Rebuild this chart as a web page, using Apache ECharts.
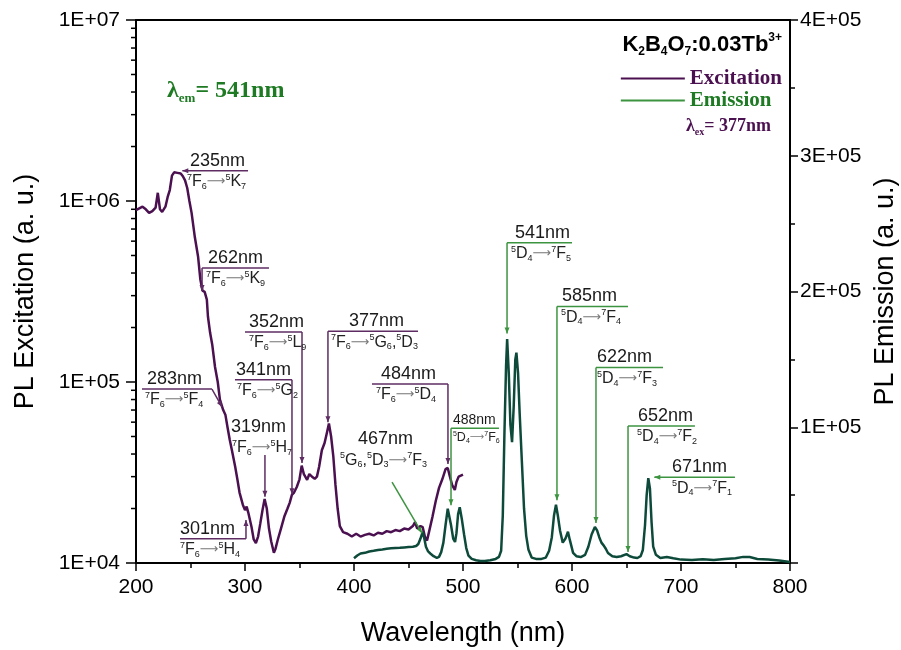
<!DOCTYPE html>
<html>
<head>
<meta charset="utf-8">
<script src="https://cdn.jsdelivr.net/npm/echarts@6/dist/echarts.min.js"></script>
<style>
  html, body { margin: 0; padding: 0; background: #fff; }
  #chart { width: 901px; height: 650px; }
</style>
</head>
<body>
<div id="chart"></div>
<script>
// excitation spectrum (lambda_em = 541 nm), left log axis
const excitationNm = [200, 203, 206, 209, 212, 215, 218, 220, 222, 224, 227, 229, 231, 233, 235, 238, 241, 243, 245, 247, 249, 251, 254, 257, 259, 261, 263, 265, 266, 268, 270, 272.5, 275, 277, 280, 282, 284, 286, 288, 291, 293, 295, 298, 300, 301.5, 303, 306, 308, 310, 312, 314, 316, 318, 320, 322, 324, 326.5, 328, 330, 333, 336, 339, 341, 343, 345, 347.5, 350, 352, 354, 357, 359, 361.5, 364, 366, 368, 370.5, 373, 375, 377, 379, 381, 383, 385, 387, 390, 394, 398, 402, 406, 410, 414, 418, 422, 426, 430, 434, 438, 442, 446, 450, 454, 456, 458, 461, 463, 465, 467, 469, 472, 475, 478, 481, 484, 486, 488, 490, 492.5, 494, 496, 499, 500];
const excitationVal = [8.9e5, 9.1e5, 9.3e5, 9.0e5, 8.6e5, 8.8e5, 9.2e5, 1.11e6, 9.0e5, 8.7e5, 9.3e5, 1.05e6, 1.15e6, 1.38e6, 1.44e6, 1.43e6, 1.42e6, 1.37e6, 1.3e6, 1.18e6, 1.0e6, 8.6e5, 6.3e5, 4.9e5, 3.7e5, 3.2e5, 3.15e5, 2.85e5, 2.3e5, 1.87e5, 1.6e5, 1.21e5, 1.0e5, 8.0e4, 7.0e4, 6.6e4, 5.6e4, 4.8e4, 4.2e4, 3.4e4, 2.9e4, 2.45e4, 2.1e4, 1.96e4, 2.05e4, 1.9e4, 1.58e4, 1.35e4, 1.29e4, 1.4e4, 1.65e4, 1.95e4, 2.26e4, 2.0e4, 1.55e4, 1.32e4, 1.14e4, 1.2e4, 1.34e4, 1.55e4, 1.8e4, 2.0e4, 2.15e4, 2.38e4, 2.45e4, 2.63e4, 2.9e4, 3.45e4, 3.1e4, 2.88e4, 3.1e4, 3.0e4, 2.92e4, 3.0e4, 3.4e4, 4.2e4, 4.6e4, 5.2e4, 5.9e4, 5.0e4, 3.9e4, 2.7e4, 2.0e4, 1.6e4, 1.48e4, 1.45e4, 1.4e4, 1.45e4, 1.4e4, 1.43e4, 1.45e4, 1.42e4, 1.47e4, 1.45e4, 1.5e4, 1.48e4, 1.52e4, 1.5e4, 1.55e4, 1.53e4, 1.6e4, 1.68e4, 1.55e4, 1.6e4, 1.58e4, 1.4e4, 1.33e4, 1.5e4, 1.8e4, 2.2e4, 2.6e4, 2.9e4, 3.3e4, 3.35e4, 3.0e4, 2.7e4, 2.53e4, 2.8e4, 3.0e4, 3.06e4, 3.08e4];

// emission spectrum (lambda_ex = 377 nm), right linear axis
const emissionNm = [400, 403, 406, 410, 414, 418, 422, 426, 430, 434, 438, 442, 446, 450, 454, 457, 459, 461, 463, 464.5, 466, 468, 470, 473, 476, 478, 480, 482, 484, 486, 487.5, 489, 491, 492.7, 494, 495.5, 497, 499, 501, 503, 505, 508, 512, 516, 520, 525, 530, 533, 535, 536.5, 538, 539.5, 540.5, 542, 543.5, 545, 546.5, 548, 549, 550.5, 552, 554, 556, 558, 560, 563, 567, 572, 576, 579, 581.5, 583.5, 585.3, 587, 589, 591.5, 594, 596.3, 598, 601, 604, 608, 612, 615, 618, 621, 623, 625, 627, 629, 631, 633, 637, 641, 645, 650, 653, 657, 660, 663, 665, 667, 668.5, 670, 671.5, 673, 674.5, 677, 681, 687, 693, 700, 710, 720, 730, 740, 750, 757, 763, 770, 780, 790, 800];
const emissionVal = [3.5e3, 5.5e3, 7e3, 7.5e3, 8.5e3, 9e3, 9.6e3, 1.0e4, 1.05e4, 1.08e4, 1.1e4, 1.12e4, 1.15e4, 1.18e4, 1.2e4, 1.25e4, 1.4e4, 1.8e4, 2.3e4, 1.8e4, 1.2e4, 8.5e3, 7e3, 5e3, 3.8e3, 4.5e3, 8e3, 1.5e4, 2.8e4, 4.0e4, 3.9e4, 2.8e4, 1.8e4, 1.55e4, 2.2e4, 3.6e4, 4.1e4, 3.2e4, 2.1e4, 1.1e4, 5.5e3, 3e3, 2e3, 1.5e3, 1.5e3, 2e3, 3e3, 4.5e3, 9e3, 3.5e4, 9.5e4, 1.45e5, 1.65e5, 1.4e5, 1.02e5, 8.9e4, 1.15e5, 1.5e5, 1.55e5, 1.4e5, 1.1e5, 7.5e4, 4e4, 2e4, 1.0e4, 4e3, 3e3, 3e3, 4e3, 9e3, 1.9e4, 3.5e4, 4.3e4, 3.5e4, 2.4e4, 1.5e4, 1.8e4, 2.3e4, 1.7e4, 7.5e3, 5e3, 4.4e3, 6e3, 1.2e4, 2.1e4, 2.65e4, 2.4e4, 1.9e4, 1.5e4, 1.3e4, 1.05e4, 7.4e3, 5e3, 4.4e3, 5e3, 6.5e3, 5e3, 4e3, 3.7e3, 5e3, 9.6e3, 2.8e4, 5e4, 6.25e4, 5.5e4, 3e4, 1.2e4, 6e3, 3.7e3, 4.4e3, 3.5e3, 2.5e3, 2.2e3, 2.8e3, 2.2e3, 3e3, 3.5e3, 4.5e3, 4.4e3, 3e3, 2.5e3, 1.8e3, 0.8e3];

const logMinorTicks = [2e4, 3e4, 4e4, 5e4, 6e4, 7e4, 8e4, 9e4, 2e5, 3e5, 4e5, 5e5, 6e5, 7e5, 8e5, 9e5, 2e6, 3e6, 4e6, 5e6, 6e6, 7e6, 8e6, 9e6];

// peak annotations
const excitationLabels = ['235nm', '262nm', '283nm', '301nm', '319nm', '341nm', '352nm', '377nm', '484nm'];
const excitationTrans = ['^7F_6>^5K_7', '^7F_6>^5K_9', '^7F_6>^5F_4', '^7F_6>^5H_4', '^7F_6>^5H_7', '^7F_6>^5G_2', '^7F_6>^5L_9', '^7F_6>^5G_6,^5D_3', '^7F_6>^5D_4'];
const emissionLabels = ['467nm', '488nm', '541nm', '585nm', '622nm', '652nm', '671nm'];
const emissionTrans = ['^5G_6,^5D_3>^7F_3', '^5D_4>^7F_6', '^5D_4>^7F_5', '^5D_4>^7F_4', '^5D_4>^7F_3', '^5D_4>^7F_2', '^5D_4>^7F_1'];

// where each annotation sits (axis units)
const excitationLayout = [
  { bar: true, x0: 245, x1: 302.8, y: 1.47e6, labelX: 249.5, transX: 246.8, from: [246, 1.47e6], to: [242.5, 1.47e6] },
  { bar: true, x0: 260.6, x1: 322, y: 4.27e5, labelX: 266.1, transX: 264.2, from: [260.6, 4.27e5], to: [260.6, 3.18e5] },
  { bar: true, x0: 205.5, x1: 269.7, y: 9.14e4, labelX: 210.1, transX: 208.3, from: [269.7, 9.14e4], to: [278.9, 7.28e4] },
  { bar: true, x0: 240.4, x1: 300.9, y: 1.36e4, labelX: 240.4, transX: 240.4, from: [300.9, 1.36e4], to: [300.9, 1.73e4] },
  { bar: false, x0: 287, x1: 340, y: 4.97e4, labelX: 287.2, transX: 288.1, from: [318.3, 3.95e4], to: [318.3, 2.32e4] },
  { bar: true, x0: 290.8, x1: 343.1, y: 1.03e5, labelX: 291.7, transX: 292.7, from: [343.1, 1.03e5], to: [343.1, 2.4e4] },
  { bar: true, x0: 300, x1: 352.3, y: 1.89e5, labelX: 303.7, transX: 303.7, from: [352.3, 1.89e5], to: [352.3, 3.57e4] },
  { bar: true, x0: 376.1, x1: 458.7, y: 1.91e5, labelX: 395.4, transX: 378.9, from: [376.1, 1.91e5], to: [376.1, 6.0e4] },
  { bar: true, x0: 416.5, x1: 486.2, y: 9.75e4, labelX: 424.8, transX: 420.2, from: [486.2, 9.75e4], to: [486.2, 3.52e4] }
];
const emissionLayout = [
  { bar: false, x0: 387, x1: 440, y: 8.38e4, labelX: 403.7, transX: 387.2, from: [434.9, 5.96e4], to: [462.4, 2.2e4] },
  { bar: true, small: true, x0: 489, x1: 533, y: 9.93e4, labelX: 490.8, transX: 490.8, from: [489, 9.93e4], to: [489, 4.26e4] },
  { bar: true, x0: 540.4, x1: 600, y: 2.36e5, labelX: 547.7, transX: 544, from: [540.4, 2.36e5], to: [540.4, 1.69e5] },
  { bar: true, x0: 586.2, x1: 651.4, y: 1.89e5, labelX: 590.8, transX: 589.9, from: [586.2, 1.89e5], to: [586.2, 4.63e4] },
  { bar: true, x0: 622, x1: 683.5, y: 1.44e5, labelX: 622.9, transX: 622.9, from: [622, 1.44e5], to: [622, 2.94e4] },
  { bar: true, x0: 651.4, x1: 712.8, y: 1.01e5, labelX: 660.6, transX: 659.7, from: [651.4, 1.01e5], to: [651.4, 8.1e3] },
  { bar: true, x0: 676.1, x1: 749.5, y: 6.32e4, labelX: 691.7, transX: 691.7, from: [679, 6.32e4], to: [675.5, 6.32e4] }
];

const PURPLE = '#4b1050';
const TEAL = '#0d4a3a';
const NOTE_PURPLE = '#5e2c62';
const NOTE_GREEN = '#3d9440';
const SANS = 'Liberation Sans, Arial, sans-serif';
const SERIF = 'Liberation Serif, Times New Roman, serif';

// "^7F_6>^5K_7" -> rich text tokens
function richText(s) {
  let out = '', buf = '';
  const flush = () => { if (buf) { out += '{n|' + buf + '}'; buf = ''; } };
  for (let i = 0; i < s.length; i++) {
    const c = s[i];
    if (c === '^') { flush(); out += '{sup|' + s[++i] + '}'; }
    else if (c === '_') { flush(); out += '{sub|' + s[++i] + '}'; }
    else if (c === '>') { flush(); out += '{arr|\u27F6}'; }
    else buf += c;
  }
  flush();
  return out;
}

function transRich(k) {
  return {
    n: { fontSize: 16 * k, fontFamily: SANS, fill: '#222', lineHeight: 18 * k, verticalAlign: 'middle' },
    sup: { fontSize: 9 * k, fontFamily: SANS, fill: '#222', lineHeight: 9 * k, verticalAlign: 'top' },
    sub: { fontSize: 9 * k, fontFamily: SANS, fill: '#222', lineHeight: 9 * k, verticalAlign: 'bottom' },
    arr: { fontSize: 13 * k, fontFamily: 'DejaVu Sans', fill: '#777', lineHeight: 18 * k, verticalAlign: 'middle' }
  };
}

function noteSeries(yIndex, labels, trans, layout, lineColor) {
  return {
    type: 'custom',
    xAxisIndex: 0,
    yAxisIndex: yIndex,
    silent: true,
    clip: false,
    z: 5,
    data: layout.map((l, i) => [l.to[0], l.to[1], i]),
    encode: { x: 0, y: 1 },
    renderItem: function (params, api) {
      const i = api.value(2);
      const l = layout[i];
      const k = l.small ? 0.78 : 1;
      const a = api.coord(l.from), b = api.coord(l.to);
      const p0 = api.coord([l.x0, l.y]), p1 = api.coord([l.x1, l.y]);
      const kids = [];
      if (l.bar) {
        kids.push({ type: 'line', shape: { x1: p0[0], y1: p0[1], x2: p1[0], y2: p1[1] }, style: { stroke: lineColor, lineWidth: 1.5 } });
      }
      kids.push({ type: 'line', shape: { x1: a[0], y1: a[1], x2: b[0], y2: b[1] }, style: { stroke: lineColor, lineWidth: 1.5 } });
      const dx = b[0] - a[0], dy = b[1] - a[1];
      const len = Math.hypot(dx, dy) || 1, ux = dx / len, uy = dy / len;
      const h = 6, w = 2.5;
      kids.push({
        type: 'polygon',
        shape: { points: [[b[0], b[1]], [b[0] - ux * h - uy * w, b[1] - uy * h + ux * w], [b[0] - ux * h + uy * w, b[1] - uy * h - ux * w]] },
        style: { fill: lineColor }
      });
      const lx = api.coord([l.labelX, l.y])[0];
      const tx = api.coord([l.transX, l.y])[0];
      kids.push({ type: 'text', x: lx, y: p0[1] - 1, style: { text: labels[i], fill: '#1a1a1a', fontSize: Math.round(18 * k), fontFamily: SANS, align: 'left', verticalAlign: 'bottom' } });
      kids.push({ type: 'text', x: tx, y: p0[1] + 2, style: { text: richText(trans[i]), rich: transRich(k), align: 'left', verticalAlign: 'top' } });
      return { type: 'group', children: kids };
    }
  };
}

const chart = echarts.init(document.getElementById('chart'));

const option = {
  animation: false,
  backgroundColor: '#fff',
  grid: { left: 136, right: 111, top: 20, bottom: 87, containLabel: false, outerBoundsMode: 'none' },
  title: [
    {
      text: '{b|K}{s|2}{b|B}{s|4}{b|O}{s|7}{b|:0.03Tb}{p|3+}',
      right: 114, top: 27,
      textStyle: {
        rich: {
          b: { fontSize: 22, fontWeight: 'bold', fontFamily: SANS, color: '#000', lineHeight: 26, verticalAlign: 'middle' },
          s: { fontSize: 12, fontWeight: 'bold', fontFamily: SANS, color: '#000', lineHeight: 12, verticalAlign: 'bottom' },
          p: { fontSize: 12, fontWeight: 'bold', fontFamily: SANS, color: '#000', lineHeight: 12, verticalAlign: 'top' }
        }
      }
    },
    {
      text: '{a|\u03BB}{s|em}{a|= 541nm}',
      left: 162, top: 72,
      textStyle: {
        rich: {
          a: { fontSize: 24, fontWeight: 'bold', fontFamily: SERIF, color: '#1f7a24', lineHeight: 28, verticalAlign: 'middle' },
          s: { fontSize: 13, fontWeight: 'bold', fontFamily: SERIF, color: '#1f7a24', lineHeight: 13, verticalAlign: 'bottom' }
        }
      }
    },
    {
      text: '{a|\u03BB}{s|ex}{a|= 377nm}',
      right: 125, top: 110,
      textStyle: {
        rich: {
          a: { fontSize: 18, fontWeight: 'bold', fontFamily: SERIF, color: PURPLE, lineHeight: 22, verticalAlign: 'middle' },
          s: { fontSize: 10, fontWeight: 'bold', fontFamily: SERIF, color: PURPLE, lineHeight: 10, verticalAlign: 'bottom' }
        }
      }
    }
  ],
  legend: {
    orient: 'vertical',
    right: 114, top: 63,
    align: 'left',
    icon: 'rect',
    itemWidth: 64, itemHeight: 2, itemGap: 1,
    textStyle: { fontFamily: SERIF, fontWeight: 'bold', fontSize: 21 },
    data: [
      { name: 'Excitation', itemStyle: { color: PURPLE }, textStyle: { color: PURPLE } },
      { name: 'Emission', itemStyle: { color: NOTE_GREEN }, textStyle: { color: '#1f7a24' } }
    ]
  },
  xAxis: [
    {
      type: 'value', min: 200, max: 800, interval: 100,
      name: 'Wavelength (nm)', nameLocation: 'middle', nameGap: 57,
      nameTextStyle: { fontSize: 27, fontFamily: SANS, color: '#000' },
      axisLine: { lineStyle: { color: '#000', width: 2 } },
      axisTick: { length: 8, lineStyle: { color: '#000', width: 1.5 } },
      minorTick: { show: true, splitNumber: 2, length: 5, lineStyle: { color: '#000', width: 1.5 } },
      axisLabel: { fontSize: 21, fontFamily: SANS, color: '#000', margin: 14 },
      splitLine: { show: false }
    },
    {
      type: 'value', min: 200, max: 800, position: 'top',
      axisLine: { lineStyle: { color: '#000', width: 2 } },
      axisTick: { show: false }, axisLabel: { show: false }, splitLine: { show: false }
    }
  ],
  yAxis: [
    {
      type: 'log', logBase: 10, min: 1e4, max: 1e7,
      name: 'PL Excitation (a. u.)', nameLocation: 'middle', nameGap: 97,
      nameTextStyle: { fontSize: 27, fontFamily: SANS, color: '#000' },
      axisLine: { show: true, lineStyle: { color: '#000', width: 2 } },
      axisTick: { length: 10, lineStyle: { color: '#000', width: 1.5 } },
      axisLabel: { fontSize: 21, fontFamily: SANS, color: '#000', margin: 16, formatter: v => '1E+' + String(Math.round(Math.log10(v))).padStart(2, '0') },
      splitLine: { show: false }
    },
    {
      type: 'value', min: 0, max: 4e5, interval: 1e5, position: 'right',
      name: 'PL Emission (a. u.)', nameLocation: 'middle', nameGap: 76,
      nameTextStyle: { fontSize: 27, fontFamily: SANS, color: '#000' },
      axisLine: { show: true, lineStyle: { color: '#000', width: 2 } },
      axisTick: { length: 8, lineStyle: { color: '#000', width: 1.5 } },
      minorTick: { show: true, splitNumber: 2, length: 5, lineStyle: { color: '#000', width: 1.5 } },
      axisLabel: {
        fontSize: 21, fontFamily: SANS, color: '#000', margin: 10,
        formatter: v => {
          if (v === 0) return '';
          const e = Math.floor(Math.log10(v));
          return Math.round(v / Math.pow(10, e)) + 'E+' + String(e).padStart(2, '0');
        }
      },
      splitLine: { show: false }
    }
  ],
  series: [
    {
      name: 'Excitation', type: 'line', xAxisIndex: 0, yAxisIndex: 0,
      showSymbol: false, symbol: 'none', z: 3,
      lineStyle: { color: PURPLE, width: 2.5 }, itemStyle: { color: PURPLE },
      data: excitationNm.map((x, i) => [x, excitationVal[i]])
    },
    {
      name: 'Emission', type: 'line', xAxisIndex: 0, yAxisIndex: 1,
      showSymbol: false, symbol: 'none', z: 3,
      lineStyle: { color: TEAL, width: 2.5 }, itemStyle: { color: TEAL },
      data: emissionNm.map((x, i) => [x, emissionVal[i]])
    },
    {
      // log minor ticks on the left axis
      type: 'custom', xAxisIndex: 0, yAxisIndex: 0, silent: true, clip: false,
      data: logMinorTicks.map(v => [200, v]),
      encode: { x: 0, y: 1 },
      renderItem: (params, api) => {
        const p = api.coord([200, api.value(1)]);
        return { type: 'line', shape: { x1: p[0] - 5, y1: p[1], x2: p[0], y2: p[1] }, style: { stroke: '#000', lineWidth: 1.5 } };
      }
    },
    noteSeries(0, excitationLabels, excitationTrans, excitationLayout, NOTE_PURPLE),
    noteSeries(1, emissionLabels, emissionTrans, emissionLayout, NOTE_GREEN)
  ]
};

chart.setOption(option);
</script>
</body>
</html>
